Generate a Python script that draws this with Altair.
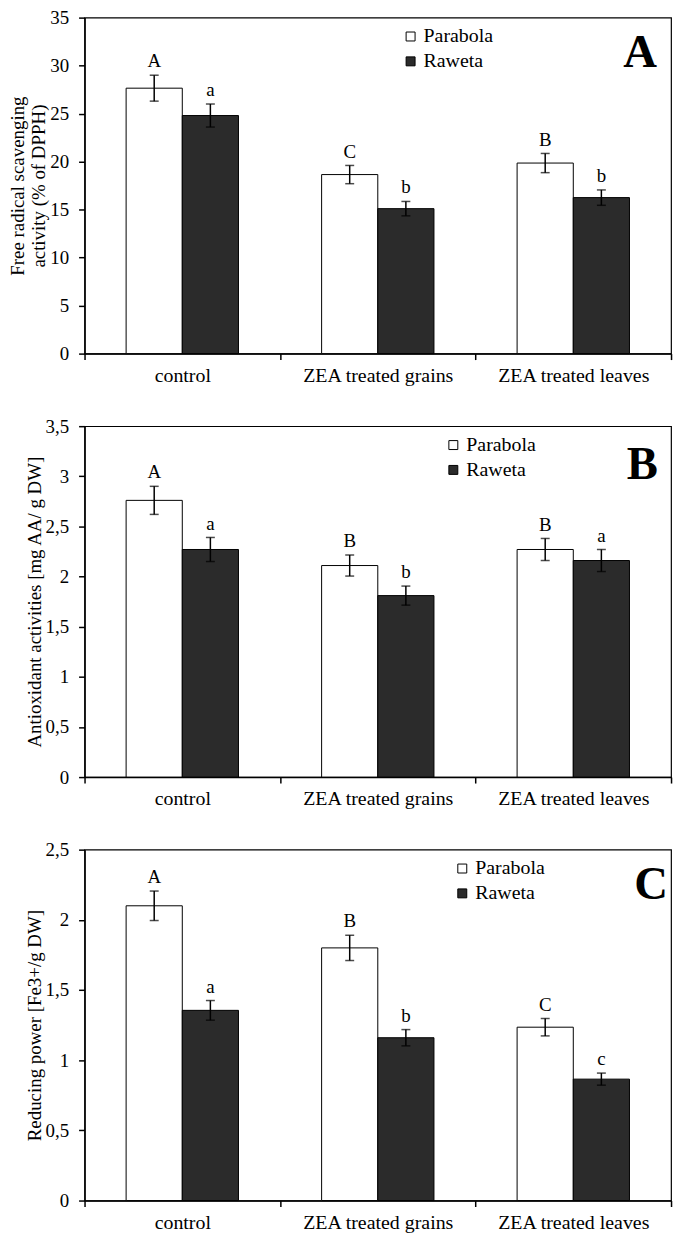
import altair as alt
import pandas as pd

categories = ["control", "ZEA treated grains", "ZEA treated leaves"]
varieties = ["Parabola", "Raweta"]

# Panel A - DPPH
a_parabola = [27.65, 18.65, 19.85]
a_parabola_err = [1.35, 0.95, 1.0]
a_raweta = [24.8, 15.1, 16.25]
a_raweta_err = [1.2, 0.75, 0.8]
a_parabola_letters = ["A", "C", "B"]
a_raweta_letters = ["a", "b", "b"]
a_ticks = [0, 5, 10, 15, 20, 25, 30, 35]

# Panel B - antioxidant activities
b_parabola = [2.76, 2.11, 2.27]
b_parabola_err = [0.14, 0.105, 0.11]
b_raweta = [2.27, 1.81, 2.16]
b_raweta_err = [0.12, 0.095, 0.11]
b_parabola_letters = ["A", "B", "B"]
b_raweta_letters = ["a", "b", "a"]
b_ticks = [0, 0.5, 1, 1.5, 2, 2.5, 3, 3.5]

# Panel C - reducing power
c_parabola = [2.10, 1.80, 1.235]
c_parabola_err = [0.105, 0.09, 0.062]
c_raweta = [1.355, 1.16, 0.865]
c_raweta_err = [0.07, 0.058, 0.043]
c_parabola_letters = ["A", "B", "C"]
c_raweta_letters = ["a", "b", "c"]
c_ticks = [0, 0.5, 1, 1.5, 2, 2.5]

FONT = "Liberation Serif"
W = 590


def make_panel(par, par_err, raw, raw_err, par_let, raw_let, ticks, title,
               height, legend_x, legend_y, panel_letter, letter_dx, letter_y):
    rows = []
    for i, cat in enumerate(categories):
        for var, vals, errs, lets in (("Parabola", par, par_err, par_let),
                                      ("Raweta", raw, raw_err, raw_let)):
            rows.append({"category": cat, "variety": var, "value": vals[i],
                         "lo": vals[i] - errs[i], "hi": vals[i] + errs[i],
                         "letter": lets[i]})
    df = pd.DataFrame(rows)
    base = alt.Chart(df)

    x = alt.X("category:N", sort=categories,
              scale=alt.Scale(paddingInner=0, paddingOuter=0),
              axis=alt.Axis(title=None, labelAngle=0, tickBand="extent",
                            labelPadding=6, labelFontSize=20))
    xo = alt.XOffset("variety:N", sort=varieties,
                     scale=alt.Scale(paddingInner=0, paddingOuter=0.74))
    yscale = alt.Scale(domain=[0, ticks[-1]], nice=False, zero=True)
    yaxis = alt.Axis(values=ticks, title=title,
                     labelExpr="replace(toString(datum.value), '.', ',')",
                     labelPadding=10)

    bars = base.mark_bar(stroke="black", strokeWidth=1).encode(
        x=x,
        xOffset=xo,
        y=alt.Y("value:Q", scale=yscale, axis=yaxis),
        fill=alt.Fill("variety:N", sort=varieties,
                      scale=alt.Scale(domain=varieties, range=["white", "#2b2b2b"]),
                      legend=alt.Legend(orient="none", legendX=legend_x,
                                        legendY=legend_y, title=None)),
    )
    rules = base.mark_rule(color="black", strokeWidth=1.5).encode(
        x=x, xOffset=xo,
        y=alt.Y("lo:Q", scale=yscale, axis=yaxis), y2="hi:Q")
    cap_hi = base.mark_tick(color="black", size=9, thickness=1.5).encode(
        x=x, xOffset=xo, y=alt.Y("hi:Q", scale=yscale, axis=yaxis))
    cap_lo = base.mark_tick(color="black", size=9, thickness=1.5).encode(
        x=x, xOffset=xo, y=alt.Y("lo:Q", scale=yscale, axis=yaxis))
    letters = base.mark_text(font=FONT, fontSize=19, color="black",
                             baseline="bottom", dy=-4).encode(
        x=x, xOffset=xo, y=alt.Y("hi:Q", scale=yscale, axis=yaxis),
        text="letter:N")
    plabel = alt.Chart(pd.DataFrame({"t": [panel_letter]})).mark_text(
        font=FONT, fontSize=47, fontWeight="bold", color="black",
        align="center", baseline="alphabetic").encode(
        x=alt.value(W - letter_dx), y=alt.value(letter_y), text="t:N")

    return alt.layer(bars, rules, cap_hi, cap_lo, letters, plabel).properties(
        width=W, height=height)


pA = make_panel(a_parabola, a_parabola_err, a_raweta, a_raweta_err,
                a_parabola_letters, a_raweta_letters, a_ticks,
                ["Free radical scavenging", "activity (% of DPPH)"],
                338, W - 272, 9, "A", 31, 50)
pB = make_panel(b_parabola, b_parabola_err, b_raweta, b_raweta_err,
                b_parabola_letters, b_raweta_letters, b_ticks,
                "Antioxidant activities [mg AA/ g DW]",
                353, W - 229, 9, "B", 29, 53)
pC = make_panel(c_parabola, c_parabola_err, c_raweta, c_raweta_err,
                c_parabola_letters, c_raweta_letters, c_ticks,
                "Reducing power [Fe3+/g DW]",
                353, W - 220, 9, "C", 20, 50)

chart = alt.vconcat(pA, pB, pC, spacing=30).resolve_scale(
    x="independent", y="independent", fill="independent"
).resolve_legend(fill="independent").properties(
    padding={"left": 0, "top": -4, "right": 4, "bottom": 0}
).configure_view(
    stroke="black", strokeWidth=1.2
).configure_axis(
    grid=False, labelFont=FONT, labelFontSize=19, labelColor="black",
    titleFont=FONT, titleFontSize=19, titleColor="black",
    titleFontWeight="normal", titleLineHeight=21, titlePadding=1,
    tickSize=6, tickColor="black", tickWidth=1.5,
    domainColor="black", domainWidth=1.5
).configure_legend(
    labelFont=FONT, labelFontSize=20, labelColor="black",
    symbolType="square", symbolSize=81, symbolStrokeColor="black",
    symbolStrokeWidth=1, rowPadding=5, labelOffset=3, padding=0
)

chart.save("out.html", embed_options={"renderer": "svg", "actions": False})
